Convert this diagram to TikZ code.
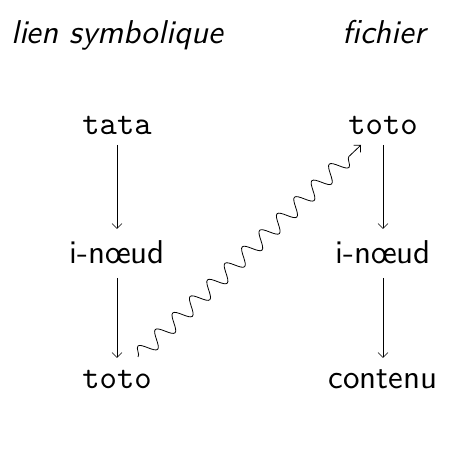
\documentclass[tikz,border=0pt]{standalone}
\usepackage{amsmath}
\usepackage{fontspec}
\setsansfont{lmsans10-regular.otf}[ItalicFont=lmsans10-oblique.otf]
\setmonofont{lmmono10-regular.otf}
\usetikzlibrary{positioning,decorations.pathmorphing,arrows.meta}
\renewcommand{\familydefault}{\sfdefault}

\begin{document}
\begin{tikzpicture}[x=1pt, y=1pt, font=\fontsize{33}{40}\selectfont, line width=0.6pt,
  >={Straight Barb[length=5pt,width=10pt]},
  title/.style={anchor=base, font=\fontsize{33}{40}\selectfont\itshape},
  entry/.style={anchor=base, inner sep=0pt},
  file/.style={entry, font=\fontsize{33}{40}\selectfont\ttfamily}]

  \useasboundingbox (0,0) rectangle (469,454);

  \node[title] (symtitle) at (117,410) {lien symbolique};
  \node[title] (filetitle) at (384,410) {fichier};

  \node[file] (tata) at (117,319) {tata};
  \node[entry] (symnode) at (117,190) {i-n\oe ud};
  \node[file] (symlink) at (117,65) {toto};

  \node[file] (toto) at (383,319) {toto};
  \node[entry] (filenode) at (383,190) {i-n\oe ud};
  \node[entry] (content) at (383,65) {contenu};

  \draw[->] ([yshift=-10pt]tata.base) -- ([yshift=35pt]symnode.base);
  \draw[->] ([yshift=-14pt]symnode.base) -- ([yshift=31pt]symlink.base);
  \draw[->] ([yshift=-10pt]toto.base) -- ([yshift=35pt]filenode.base);
  \draw[->] ([yshift=-14pt]filenode.base) -- ([yshift=31pt]content.base);
  \draw[->, line width=0.8pt, decorate, decoration={snake, amplitude=8pt, segment length=24pt, post length=14pt}]
    ([shift={(21pt,32pt)}]symlink.base) -- ([shift={(-22pt,-10pt)}]toto.base);
\end{tikzpicture}
\end{document}
